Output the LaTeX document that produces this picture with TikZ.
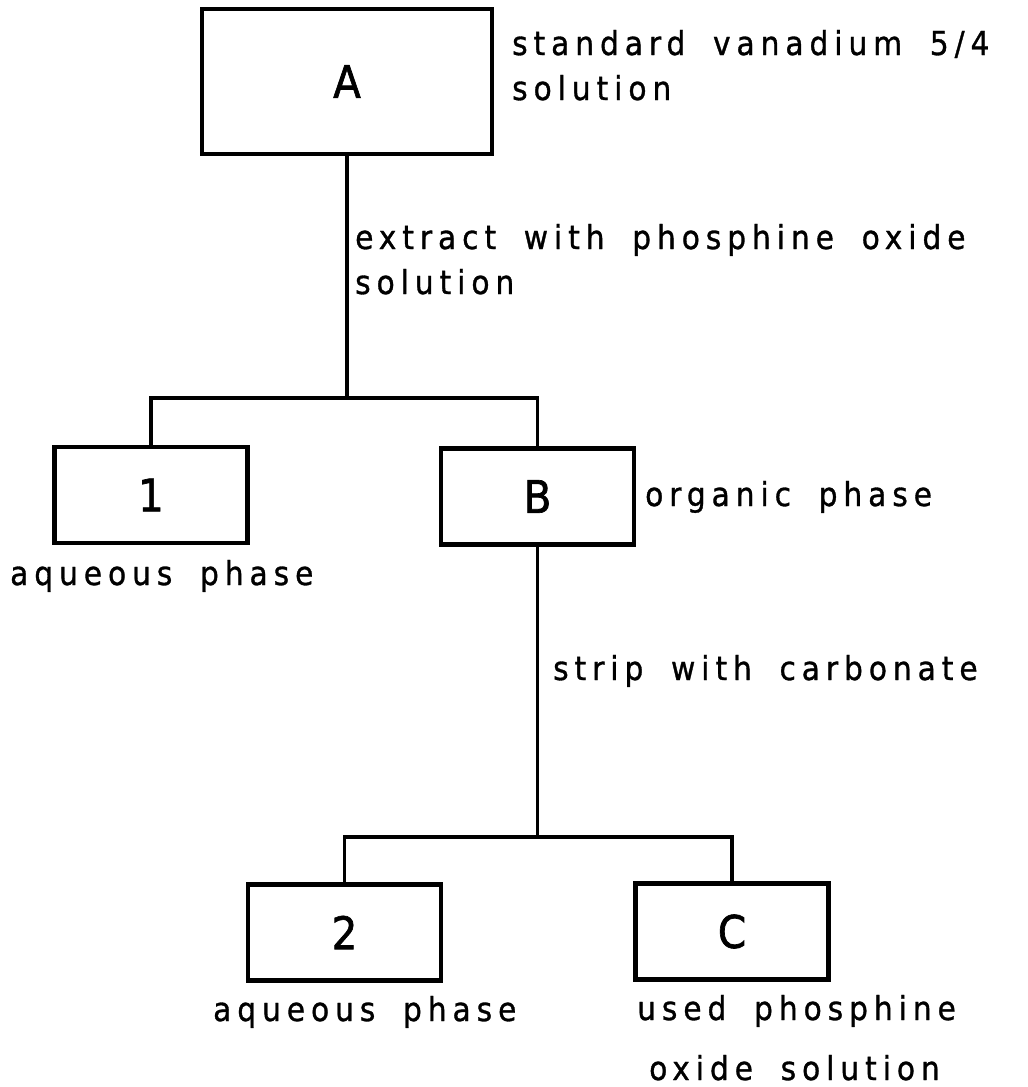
\documentclass[tikz,border=0pt]{standalone}
\usepackage{fontspec}
\newfontfamily\labelfont{DejaVu Sans Condensed}[LetterSpace=18, WordSpace=1.8, FakeBold=1]
\newfontfamily\boxfont{DejaVu Sans Condensed}[FakeBold=1.5]

\begin{document}
\begin{tikzpicture}[
  x=1pt, y=-1pt,
  box/.style={draw, line width=4.5pt, minimum width=193pt, minimum height=96pt,
              inner sep=0pt, font=\boxfont\fontsize{45}{45}\selectfont},
  note/.style={anchor=base west, align=left, inner sep=0pt,
               font=\labelfont\fontsize{33}{45}\selectfont},
  link/.style={line width=3.4pt}
]
  \useasboundingbox (0,0) rectangle (1028,1087);

  % boxes
  \node[box, minimum width=290pt, minimum height=145pt] (A) at (347,81.5) {A};
  \node[box] (n1) at (151,495) {1};
  \node[box] (B) at (537.5,496.5) {B};
  \node[box] (n2) at (344.5,932.5) {2};
  \node[box] (C) at (732,931.5) {C};

  % texts (base = baseline of the last line)
  \node[note] (tA) at (512,100) {standard vanadium 5/4\\solution};
  \node[note] (tExtract) at (355,294) {extract with phosphine oxide\\solution};
  \node[note] (tB) at (645,506) {organic phase};
  \node[note] (t1) at (10,585) {aqueous phase};
  \node[note] (tStrip) at (553,680) {strip with carbonate};
  \node[note] (t2) at (213,1021) {aqueous phase};
  \node[note] (tC) at (637,1080) {used phosphine\\[15pt]\hspace*{12pt}oxide solution};

  % connectors
  \coordinate (s1) at (A.south |- 0,398);
  \coordinate (s2) at (B.south |- 0,837);
  \draw[link] (A.south) -- (s1);
  \draw[link] (n1.north) |- (s1) -| (B.north);
  \draw[link] (B.south) -- (s2);
  \draw[link] (n2.north) |- (s2) -| (C.north);
\end{tikzpicture}
\end{document}
